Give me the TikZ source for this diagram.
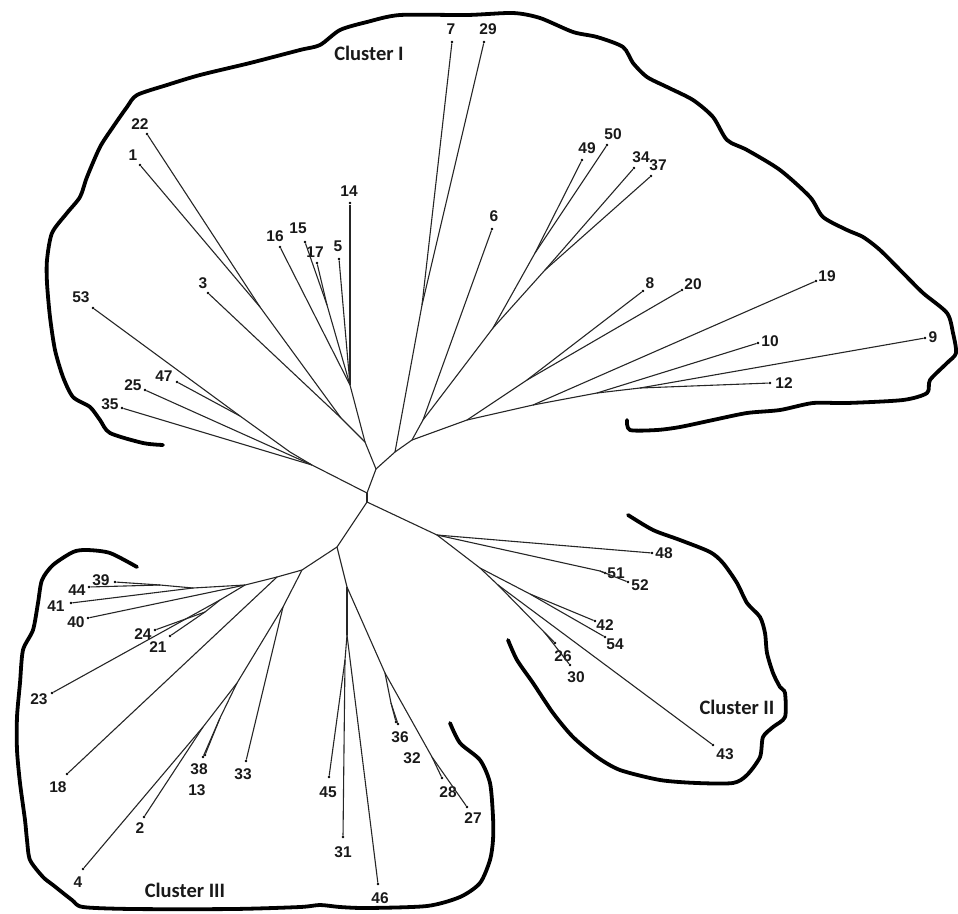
\documentclass[tikz,border=0pt]{standalone}
\usepackage{fontspec}
\setmainfont{Liberation Sans}
\newfontfamily\clusterfont{Carlito}
\tikzset{
  branch/.style={line width=1.1pt, draw=black!85},
  leaf/.style={circle, fill=black, inner sep=0pt, minimum size=2.6pt},
  num/.style={font=\fontsize{15.5}{15.5}\selectfont\bfseries, inner sep=0pt, text=black!90},
  outline/.style={line width=3.8pt, line cap=round, line join=round},
  clus/.style={font=\clusterfont\fontsize{20.5}{20.5}\selectfont\bfseries, inner sep=0pt, text=black!90}
}
\begin{document}
\begin{tikzpicture}[x=1pt,y=-1pt]
\useasboundingbox (0,0) rectangle (958,913);
% leaves: number / dot / label
\foreach \n/\x/\y/\lx/\ly in {7/452/42/451/29, 29/484/42/488/29, 22/147/134/140/124, 1/140/165/133/155,
  14/350/203/349/191, 16/280/247/275/236, 15/305/242/298/228, 17/317/263/315/252, 5/339/259/338/246,
  3/208/293/203/283, 53/93/308/81/297, 47/177/382/164/376, 25/145/390/133/385, 35/122/408/110/404,
  6/492/229/494/216, 49/582/160/587/148, 50/607/145/613/134, 34/634/168/641/157, 37/651/176/658/165,
  8/643/291/650/283, 20/682/290/693/284, 19/816/281/827/276, 10/758/343/770/341, 9/925/338/933/337,
  12/770/383/784/383,
  48/652/553/664/553, 51/605/573/616/573, 52/628/582/640/585, 42/595/621/605/625, 54/605/637/615/644,
  26/555/643/563/656, 30/570/665/576/677, 43/713/745/725/754,
  39/115/582/101/580, 44/89/587/77/590, 41/71/603/56/606, 40/88/618/76/622, 24/155/630/143/634,
  21/170/636/158/647, 23/52/693/39/699, 18/67/774/58/787, 38/205/755/199/769, 13/203/757/197/790,
  33/246/761/243/774, 2/144/817/140/828, 4/83/869/78/882, 45/329/777/328/792, 31/343/837/343/852,
  46/378/884/380/898, 36/398/724/400/737, 32/396/722/412/758, 28/442/778/448/792, 27/467/807/473/818}{
  \node[leaf] (n\n) at (\x,\y) {};
  \node[num] (t\n) at (\lx,\ly) {\n};
}
% inner junctions
\foreach \c/\x/\y in {j1/376/469, j2/367/493, j3/367/502, u1/365/442, g14/350/385, g15/327/305,
  u2/341/418, u3/260/307, l1/312/465, l2/290/452, l3/240/416, r1/395/452, g7/422/305, r2/412/440,
  r3/423/420, r4/493/328, p1/535/253, q1/545/270, r5/467/420, r6/527/380, r7/533/405, r8/597/393,
  r9/640/388, c1/437/535, c6/600/571, c2/480/568, c3/530/594, c4/498/585, c5/545/633, j4/337/547,
  k1/302/570, k4/277/577, k3/283/607, k2/245/585, k5/193/588, k6/160/585, k7/220/600, k8/205/612,
  k9/237/683, k10/220/718, k11/203/727, m1/347/587, m2/347/635, m3/345/660, m4/385/673,
  g36/391/703, g28/432/757}
  \coordinate (\c) at (\x,\y);
\foreach \a/\b in {j1/j2, j2/j3, j2/l1, j1/u1, j1/r1, j3/c1, j3/j4,
  u1/g14, u1/u2, g14/n14, g14/n5, g14/n16, g14/g15, g15/n15, g15/n17, u2/n3, u2/u3, u3/n1, u3/n22,
  l1/n35, l1/n25, l1/l2, l2/l3, l3/n47, l3/n53,
  r1/g7, r1/r2, g7/n7, g7/n29, r2/r3, r2/r5, r3/n6, r3/r4, r4/p1, r4/q1, p1/n49, p1/n50, q1/n34, q1/n37,
  r5/r6, r5/r7, r6/n8, r6/n20, r7/n19, r7/r8, r8/n10, r8/r9, r9/n9, r9/n12,
  c1/n48, c1/c6, c6/n51, c6/n52, c1/c2, c2/c3, c3/n42, c3/n54, c2/c4, c4/n43, c4/c5, c5/n26, c5/n30,
  j4/k1, j4/m1, k1/k4, k1/k3, k4/n18, k4/k2, k2/n40, k2/k5, k5/n41, k5/k6, k6/n39, k6/n44,
  k2/k7, k7/n23, k7/k8, k8/n24, k8/n21,
  k3/n33, k3/k9, k9/k10, k10/n38, k10/n13, k9/k11, k11/n2, k11/n4,
  m1/m2, m1/m4, m2/n46, m2/m3, m3/n31, m3/n45, m4/g36, m4/g28, g36/n36, g36/n32, g28/n28, g28/n27}
  \draw[branch] (\a) -- (\b);
% hand drawn cluster borders
\draw[outline] plot[smooth, tension=0.45] coordinates {(163,445) (143,443) (110,433) (100,420) (90,407)
  (73,397) (63,377) (55,350) (50,317) (47,283) (47,260) (52,233) (67,213) (80,197) (87,177) (100,147)
  (113,127) (127,107) (137,95) (167,85) (200,75) (250,63) (300,50) (320,45) (340,30) (367,22) (400,15)
  (467,15) (513,13) (540,18) (573,32) (597,37) (623,47) (633,63) (647,77) (667,87) (693,100) (713,117)
  (727,140) (747,150) (780,170) (810,197) (823,217) (847,230) (863,237) (880,250) (903,273) (923,293)
  (947,313) (953,333) (956,353) (947,363) (930,380) (927,393) (903,400) (847,403) (813,403) (780,410)
  (747,413) (713,420) (680,427) (657,430) (630,430) (627,420)};
\draw[outline] plot[smooth, tension=0.45] coordinates {(628,515) (653,530) (680,540) (710,552) (723,563)
  (737,583) (747,603) (760,617) (765,633) (767,653) (773,673) (780,687) (785,693) (785,717) (773,727)
  (763,737) (760,757) (747,775) (733,783) (697,783) (660,780) (620,770) (597,757) (573,737) (553,713)
  (533,683) (517,660) (508,640)};
\draw[outline] plot[smooth, tension=0.45] coordinates {(450,723) (460,743) (480,760) (490,783) (493,817)
  (493,840) (490,860) (480,883) (460,897) (427,906) (367,908) (340,907) (320,905) (300,907) (233,909)
  (133,909) (83,907) (72,900) (53,885) (43,877) (30,860) (27,840) (25,820) (20,783) (17,750) (17,717)
  (20,683) (23,650) (33,630) (38,603) (42,580) (53,565) (73,552) (87,550) (110,553) (137,567)};
\node[clus] (cl1) at (369,53) {Cluster I};
\node[clus] (cl2) at (737,707) {Cluster II};
\node[clus] (cl3) at (185,890) {Cluster III};
\end{tikzpicture}
\end{document}
